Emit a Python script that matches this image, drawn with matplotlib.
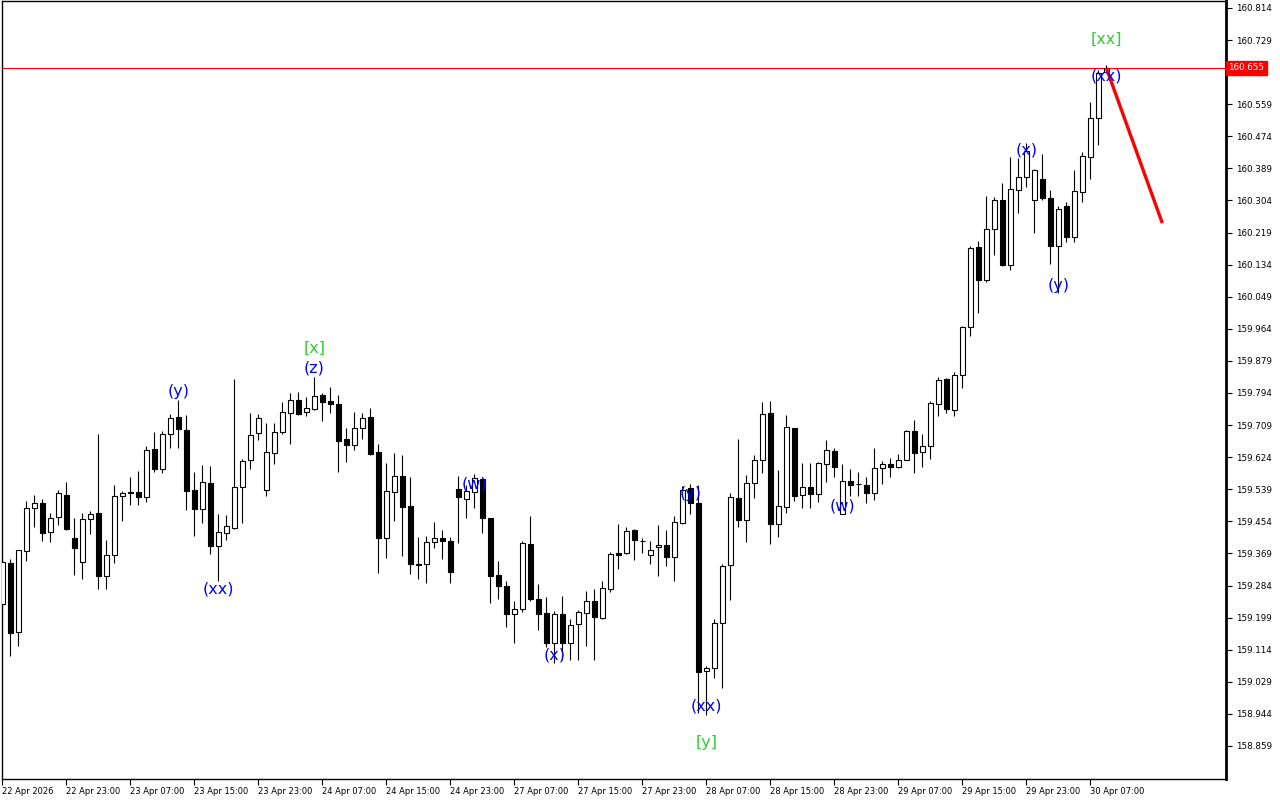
import matplotlib
matplotlib.use('Agg')
import matplotlib.pyplot as plt
import matplotlib.transforms as mtransforms
import numpy as np

# ---------------- data ----------------
opens = [
159.235, 159.344, 159.161, 159.375, 159.489, 159.503, 159.426, 159.466, 159.524, 159.410,
159.346, 159.460, 159.476, 159.309, 159.365, 159.521, 159.528, 159.532, 159.518, 159.646,
159.593, 159.685, 159.730, 159.696, 159.537, 159.487, 159.556, 159.389, 159.423, 159.436,
159.545, 159.617, 159.688, 159.537, 159.635, 159.691, 159.741, 159.775, 159.744, 159.752,
159.789, 159.773, 159.765, 159.672, 159.656, 159.701, 159.730, 159.638, 159.410, 159.532,
159.574, 159.495, 159.338, 159.341, 159.399, 159.410, 159.402, 159.540, 159.513, 159.532,
159.566, 159.463, 159.312, 159.283, 159.209, 159.222, 159.394, 159.248, 159.211, 159.132,
159.209, 159.132, 159.182, 159.211, 159.243, 159.198, 159.275, 159.370, 159.370, 159.431,
159.402, 159.365, 159.386, 159.391, 159.360, 159.450, 159.542, 159.503, 159.058, 159.066,
159.185, 159.338, 159.516, 159.458, 159.556, 159.617, 159.741, 159.447, 159.492, 159.701,
159.524, 159.545, 159.526, 159.606, 159.640, 159.473, 159.561, 159.553, 159.550, 159.529,
159.595, 159.606, 159.598, 159.617, 159.693, 159.638, 159.654, 159.765, 159.831, 159.749,
159.842, 159.969, 160.181, 160.093, 160.228, 160.305, 160.133, 160.332, 160.366, 160.305,
160.361, 160.311, 160.183, 160.289, 160.207, 160.326, 160.419, 160.522, 160.645]

highs = [
159.357, 159.354, 159.378, 159.508, 159.524, 159.513, 159.476, 159.537, 159.558, 159.463,
159.476, 159.481, 159.685, 159.405, 159.550, 159.534, 159.571, 159.587, 159.654, 159.691,
159.693, 159.738, 159.775, 159.736, 159.585, 159.603, 159.601, 159.473, 159.471, 159.831,
159.619, 159.741, 159.738, 159.714, 159.714, 159.770, 159.794, 159.797, 159.783, 159.836,
159.794, 159.810, 159.789, 159.701, 159.744, 159.741, 159.754, 159.659, 159.609, 159.635,
159.630, 159.571, 159.412, 159.415, 159.452, 159.431, 159.412, 159.574, 159.550, 159.579,
159.569, 159.463, 159.349, 159.296, 159.243, 159.402, 159.468, 159.288, 159.254, 159.217,
159.256, 159.195, 159.219, 159.269, 159.275, 159.296, 159.373, 159.447, 159.439, 159.434,
159.410, 159.402, 159.444, 159.431, 159.468, 159.548, 159.553, 159.550, 159.071, 159.195,
159.341, 159.529, 159.672, 159.577, 159.630, 159.770, 159.773, 159.590, 159.736, 159.701,
159.609, 159.609, 159.611, 159.669, 159.648, 159.606, 159.593, 159.585, 159.571, 159.648,
159.614, 159.622, 159.632, 159.696, 159.722, 159.685, 159.773, 159.836, 159.834, 159.850,
159.971, 160.183, 160.197, 160.316, 160.313, 160.350, 160.419, 160.416, 160.456, 160.387,
160.427, 160.332, 160.289, 160.300, 160.385, 160.432, 160.565, 160.650, 160.662]

lows = [
159.224, 159.097, 159.124, 159.349, 159.439, 159.402, 159.399, 159.444, 159.431, 159.312,
159.301, 159.421, 159.275, 159.275, 159.344, 159.455, 159.497, 159.497, 159.505, 159.585,
159.582, 159.648, 159.648, 159.484, 159.415, 159.450, 159.368, 159.296, 159.405, 159.434,
159.450, 159.593, 159.669, 159.521, 159.606, 159.685, 159.659, 159.736, 159.733, 159.749,
159.720, 159.741, 159.585, 159.611, 159.643, 159.672, 159.630, 159.317, 159.357, 159.455,
159.362, 159.315, 159.301, 159.291, 159.383, 159.354, 159.291, 159.397, 159.463, 159.489,
159.423, 159.238, 159.248, 159.174, 159.132, 159.214, 159.243, 159.166, 159.121, 159.079,
159.087, 159.087, 159.087, 159.124, 159.087, 159.195, 159.267, 159.328, 159.368, 159.352,
159.370, 159.341, 159.309, 159.336, 159.296, 159.447, 159.473, 158.946, 158.941, 159.039,
159.012, 159.246, 159.439, 159.399, 159.516, 159.582, 159.394, 159.412, 159.476, 159.508,
159.489, 159.489, 159.505, 159.558, 159.571, 159.473, 159.521, 159.521, 159.503, 159.511,
159.553, 159.571, 159.596, 159.617, 159.582, 159.598, 159.619, 159.733, 159.741, 159.733,
159.807, 159.945, 160.006, 160.088, 160.159, 160.130, 160.120, 160.271, 160.340, 160.218,
160.305, 160.136, 160.059, 160.194, 160.194, 160.300, 160.361, 160.451, 160.642]

closes = [
159.346, 159.158, 159.378, 159.489, 159.503, 159.423, 159.463, 159.529, 159.434, 159.383,
159.460, 159.473, 159.309, 159.365, 159.521, 159.529, 159.531, 159.518, 159.643, 159.593,
159.685, 159.728, 159.698, 159.534, 159.487, 159.558, 159.389, 159.426, 159.442, 159.545,
159.614, 159.683, 159.728, 159.638, 159.691, 159.744, 159.775, 159.738, 159.754, 159.786,
159.770, 159.765, 159.667, 159.656, 159.701, 159.728, 159.632, 159.410, 159.534, 159.574,
159.492, 159.341, 159.340, 159.399, 159.410, 159.402, 159.320, 159.518, 159.534, 159.569,
159.463, 159.309, 159.283, 159.209, 159.222, 159.397, 159.248, 159.209, 159.132, 159.209,
159.132, 159.179, 159.214, 159.243, 159.201, 159.277, 159.368, 159.365, 159.428, 159.405,
159.402, 159.378, 159.391, 159.360, 159.452, 159.537, 159.503, 159.055, 159.066, 159.185,
159.336, 159.518, 159.458, 159.556, 159.617, 159.738, 159.447, 159.495, 159.704, 159.521,
159.545, 159.526, 159.609, 159.643, 159.598, 159.561, 159.550, 159.553, 159.529, 159.595,
159.606, 159.598, 159.617, 159.693, 159.635, 159.654, 159.767, 159.828, 159.752, 159.842,
159.969, 160.178, 160.093, 160.228, 160.305, 160.133, 160.334, 160.366, 160.435, 160.385,
160.311, 160.183, 160.281, 160.207, 160.329, 160.422, 160.522, 160.642, 160.655]

x_tick_labels = ["22 Apr 2026", "22 Apr 23:00", "23 Apr 07:00", "23 Apr 15:00",
                 "23 Apr 23:00", "24 Apr 07:00", "24 Apr 15:00", "24 Apr 23:00",
                 "27 Apr 07:00", "27 Apr 15:00", "27 Apr 23:00", "28 Apr 07:00",
                 "28 Apr 15:00", "28 Apr 23:00", "29 Apr 07:00", "29 Apr 15:00",
                 "29 Apr 23:00", "30 Apr 07:00"]
x_tick_idx = list(range(0, 137, 8))

y_ticks = [160.814, 160.729, 160.644, 160.559, 160.474, 160.389, 160.304, 160.219,
           160.134, 160.049, 159.964, 159.879, 159.794, 159.709, 159.624, 159.539,
           159.454, 159.369, 159.284, 159.199, 159.114, 159.029, 158.944, 158.859]

last_price = 160.655

forecast_x = [138, 145]
forecast_y = [160.655, 160.244]

wave_text = ["(y)", "(xx)", "[x]", "(z)", "(w)", "(x)", "(y)", "(xx)", "[y]",
             "(w)", "(x)", "(y)", "(xx)", "[xx]"]
wave_idx = [22, 27, 39, 39, 59, 69, 86, 88, 88, 105, 128, 132, 138, 138]
wave_price = [159.799, 159.275, 159.913, 159.860, 159.553, 159.100, 159.529,
              158.965, 158.867, 159.495, 160.438, 160.080, 160.634, 160.732]
wave_kind = ["b", "b", "g", "b", "b", "b", "b", "b", "g", "b", "b", "b", "b", "g"]

BLUE = "#0000FF"
GREEN = "#32CD32"

# ---------------- plot ----------------
fig = plt.figure(figsize=(12.8, 8), dpi=100)
fig.patch.set_facecolor("white")
ax = fig.add_axes([1.5 / 1280, 1 - 779 / 800, (1226 - 1.5) / 1280, (779 - 0.5) / 800])

o = np.array(opens); h = np.array(highs); l = np.array(lows); c = np.array(closes)
x = np.arange(len(o))
up = c >= o

ax.vlines(x, l, h, color="black", linewidth=0.8, zorder=2)
ax.bar(x[up], (c - o)[up], bottom=o[up], width=0.58, facecolor="white",
       edgecolor="black", linewidth=0.8, zorder=3)
ax.bar(x[~up], (o - c)[~up], bottom=c[~up], width=0.58, facecolor="black",
       edgecolor="black", linewidth=0.8, zorder=3)

ax.axhline(last_price, color="red", linewidth=0.8, zorder=1)
ax.plot(forecast_x, forecast_y, color="red", linewidth=2.4, solid_capstyle="butt", zorder=5)

for t, i, p, k in zip(wave_text, wave_idx, wave_price, wave_kind):
    ax.text(i, p, t, color=BLUE if k == "b" else GREEN, fontsize=11.5,
            ha="center", va="center", zorder=6, family="DejaVu Sans")

ax.set_xlim(-0.1, -0.1 + (1226 - 1.5) / 8)
ax.set_ylim(160.835 - 779 * 0.002649, 160.835 - 0.5 * 0.002649)

ax.yaxis.tick_right()
ax.set_yticks(y_ticks)
# the tick label hidden behind the current-price box is left blank
ax.set_yticklabels(["" if abs(v - last_price) < 0.03 else f"{v:.3f}" for v in y_ticks])
ax.tick_params(axis="y", which="both", direction="out", length=4, width=0.8,
               labelsize=6.3, pad=3, colors="black")

ax.set_xticks(x_tick_idx)
ax.set_xticklabels(x_tick_labels)
ax.tick_params(axis="x", which="both", direction="out", length=4, width=0.8,
               labelsize=6, pad=2, colors="black")
for lab in ax.get_xticklabels():
    lab.set_horizontalalignment("left")

for sp in ax.spines.values():
    sp.set_color("black")
    sp.set_linewidth(1.0)
ax.spines["right"].set_linewidth(2.0)

trans = mtransforms.blended_transform_factory(ax.transAxes, ax.transData)
ax.text(1.0018, last_price, f"{last_price:.3f}", transform=trans, ha="left", va="center",
        color="white", fontsize=6.3, zorder=10, clip_on=False,
        bbox=dict(facecolor="red", edgecolor="red", boxstyle="square,pad=0.3"))

fig.savefig("out.png", dpi=100, facecolor="white")
